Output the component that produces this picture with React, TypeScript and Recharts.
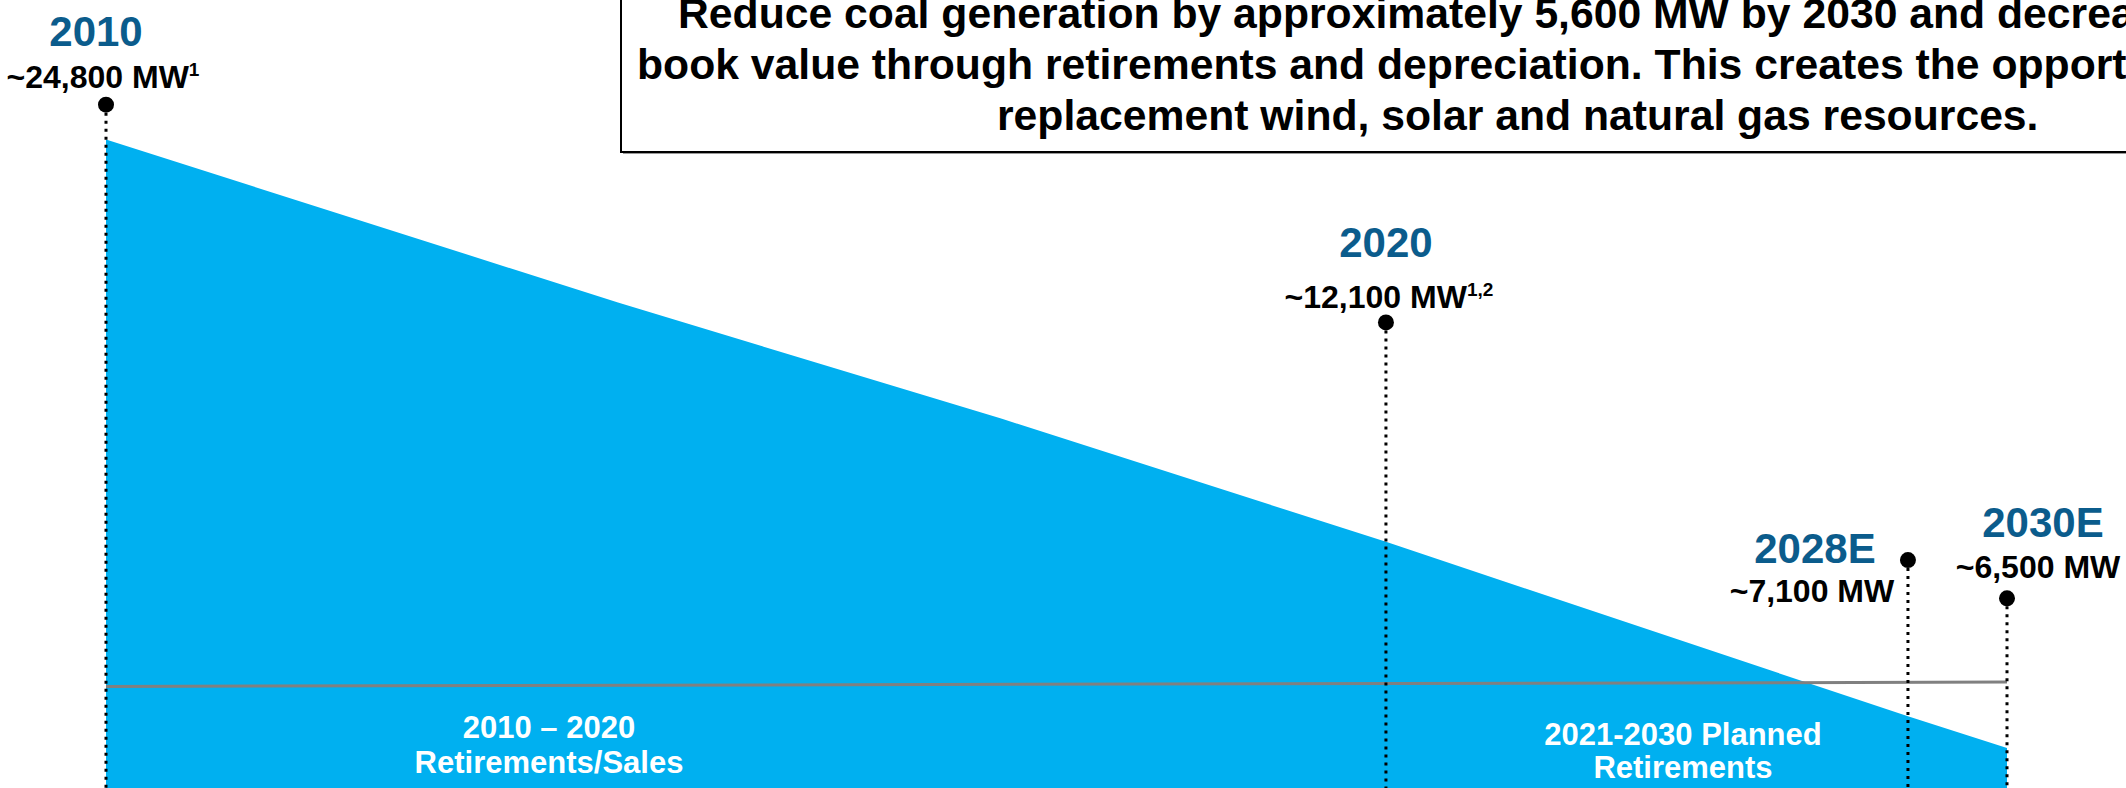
import {
  Area,
  ComposedChart,
  ReferenceDot,
  ReferenceLine,
  XAxis,
  YAxis,
} from "recharts";

// coal fleet outline (MW)
const years = [2010, 2014, 2017, 2020, 2028, 2030];
const coalMw = [24800, 19900, 16400, 12700, 7450, 6500];

// pins with their callouts
const markerYears = [2010, 2020, 2028, 2030];
const markerTitles = ["2010", "2020", "2028E", "2030E"];
const markerLabels = ["~24,800 MW", "~12,100 MW", "~7,100 MW", "~6,500 MW"];
const markerNotes = ["1", "1,2", "", ""];
const markerLevels = [25850, 19300, 12150, 11000];

// grey divider across the fill
const dividerLevels = [8350, 8480];

const boxLines = [
  "Reduce coal generation by approximately 5,600 MW by 2030 and decrease coal",
  "book value through retirements and depreciation. This creates the opportunity for",
  "replacement wind, solar and natural gas resources.",
];

const W = 2126;
const H = 788;
const FONT = '"Liberation Sans", Arial, sans-serif';
const BLUE_TEXT = "#0B5C8C";
const FILL = "#00B0F0";

// the slide squeezes 2020-2030 into less room than 2010-2020
const timelineStops = [2010, 2020, 2028, 2030];
const timelineSpots = [0, 0.6733, 0.9479, 1];

function timelineScale(stops: number[], spots: number[]) {
  let dom = [stops[0], stops[stops.length - 1]];
  let rng = [0, 1];
  const f: any = (v: number) => {
    let i = 0;
    while (i < stops.length - 2 && v > stops[i + 1]) i++;
    const t = (v - stops[i]) / (stops[i + 1] - stops[i]);
    const u = spots[i] + t * (spots[i + 1] - spots[i]);
    return rng[0] + u * (rng[1] - rng[0]);
  };
  f.domain = (d?: number[]) => (d ? ((dom = d), f) : dom);
  f.range = (r?: number[]) => (r ? ((rng = r), f) : rng);
  f.copy = () => timelineScale(stops, spots).domain(dom).range(rng);
  f.ticks = () => stops;
  return f;
}

// callout offsets from each pin: title centre / baseline, MW centre / baseline
const calloutPlacement = [
  { tx: -10, ty: -59, mx: -3, my: -17 },
  { tx: 0, ty: -65, mx: 3, my: -14 },
  { tx: -93, ty: 3, mx: -96, my: 42 },
  { tx: 36, ty: -61, mx: 31, my: -20 },
];

// left edge of each line in the message box
const boxLineX = [678, 637, 997];

function Pin(props: any) {
  const { cx, cy, idx } = props;
  const p = calloutPlacement[idx];
  return (
    <g>
      <circle cx={cx} cy={cy} r={8} fill="#000" />
      <text
        x={cx + p.tx}
        y={cy + p.ty}
        textAnchor="middle"
        fontFamily={FONT}
        fontWeight="bold"
        fontSize={42}
        fill={BLUE_TEXT}
      >
        {markerTitles[idx]}
      </text>
      <text
        x={cx + p.mx}
        y={cy + p.my}
        textAnchor="middle"
        fontFamily={FONT}
        fontWeight="bold"
        fontSize={32}
        fill="#000"
      >
        {markerLabels[idx]}
        {markerNotes[idx] ? (
          <tspan fontSize={19} dy={-12}>
            {markerNotes[idx]}
          </tspan>
        ) : null}
      </text>
    </g>
  );
}

export default function App() {
  const data = years.map((year, i) => ({ year, mw: coalMw[i] }));
  const xScale = timelineScale(timelineStops, timelineSpots);

  return (
    <div
      style={{
        position: "absolute",
        left: 0,
        top: 0,
        width: W,
        height: H,
        overflow: "hidden",
        background: "#fff",
      }}
    >
      <ComposedChart
        width={W}
        height={964}
        data={data}
        margin={{ top: 0, right: 119, bottom: 0, left: 106 }}
      >
        <XAxis
          type="number"
          dataKey="year"
          domain={[2010, 2030]}
          scale={xScale}
          hide
        />
        <YAxis type="number" domain={[0, 29000]} hide />
        <Area
          dataKey="mw"
          type="linear"
          fill={FILL}
          fillOpacity={1}
          stroke="none"
          baseValue={0}
          activeDot={false}
          isAnimationActive={false}
        />
        <ReferenceLine
          segment={[
            { x: 2010, y: dividerLevels[0] },
            { x: 2030, y: dividerLevels[1] },
          ]}
          stroke="#808080"
          strokeWidth={3}
        />
        {markerYears.map((yr, i) => (
          <ReferenceLine
            key={"l" + yr}
            segment={[
              { x: yr, y: markerLevels[i] },
              { x: yr, y: 0 },
            ]}
            stroke="#000"
            strokeWidth={3}
            strokeDasharray="3 5"
          />
        ))}
        {markerYears.map((yr, i) => (
          <ReferenceDot
            key={"d" + yr}
            x={yr}
            y={markerLevels[i]}
            r={8}
            shape={(p: any) => <Pin {...p} idx={i} />}
          />
        ))}
      </ComposedChart>

      <svg
        width={W}
        height={H}
        style={{ position: "absolute", left: 0, top: 0, pointerEvents: "none" }}
      >
        <rect x={623} y={-40} width={1792} height={194} fill="#999" />
        <rect
          x={621}
          y={-42}
          width={1792}
          height={194}
          fill="#fff"
          stroke="#000"
          strokeWidth={2}
        />
        {boxLines.map((line, i) => (
          <text
            key={i}
            x={boxLineX[i]}
            y={28 + i * 51}
            fontFamily={FONT}
            fontWeight="bold"
            fontSize={42.7}
            fill="#000"
          >
            {line}
          </text>
        ))}
        <g fontFamily={FONT} fontWeight="bold" fontSize={31} fill="#fff" textAnchor="middle">
          <text x={549} y={738}>2010 – 2020</text>
          <text x={549} y={773}>Retirements/Sales</text>
          <text x={1683} y={745}>2021-2030 Planned</text>
          <text x={1683} y={778}>Retirements</text>
        </g>
      </svg>
    </div>
  );
}
